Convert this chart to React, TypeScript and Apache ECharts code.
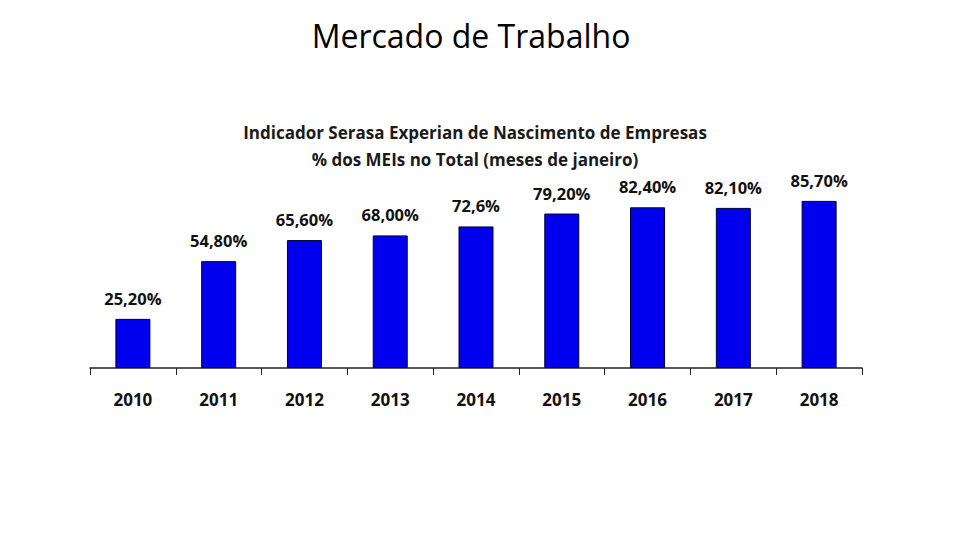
import React, { useEffect, useRef } from "react";
import * as echarts from "echarts";

const categories = ["2010", "2011", "2012", "2013", "2014", "2015", "2016", "2017", "2018"];
const values = [25.2, 54.8, 65.6, 68.0, 72.6, 79.2, 82.4, 82.1, 85.7];
const labels = ["25,20%", "54,80%", "65,60%", "68,00%", "72,6%", "79,20%", "82,40%", "82,10%", "85,70%"];

const FONT = "'Open Sans', 'Noto Sans', sans-serif";

export default function App() {
  const ref = useRef<HTMLDivElement>(null);
  useEffect(() => {
    if (!ref.current) return;
    const chart = echarts.init(ref.current, null, { renderer: "svg" });
    chart.setOption({
      animation: false,
      backgroundColor: "#ffffff",
      title: [
        {
          text: "Mercado de Trabalho",
          left: 466,
          top: 14,
          textAlign: "center",
          textStyle: { fontFamily: FONT, fontSize: 32, fontWeight: "normal", color: "#000" },
        },
        {
          text: "Indicador Serasa Experian de Nascimento de Empresas\n% dos MEIs no Total (meses de janeiro)",
          left: 470,
          top: 114,
          textAlign: "center",
          textStyle: { fontFamily: FONT, fontSize: 17, fontWeight: "bold", color: "#1a1a1a", lineHeight: 27 },
        },
      ],
      grid: { left: 90, right: 98, top: 173, height: 195 },
      xAxis: {
        type: "category",
        data: categories,
        axisLine: { lineStyle: { color: "#222", width: 1.5 } },
        axisTick: { show: true, length: 7, lineStyle: { color: "#222" }, alignWithLabel: false },
        axisLabel: { fontFamily: FONT, fontSize: 17, fontWeight: "bold", color: "#111", margin: 23 },
      },
      yAxis: {
        type: "value",
        min: 0,
        max: 100,
        show: false,
        splitLine: { show: false },
      },
      series: [
        {
          type: "bar",
          data: values,
          barWidth: 35,
          itemStyle: { color: "#0000ee", borderColor: "#000033", borderWidth: 1 },
          label: {
            show: true,
            position: "top",
            distance: 12,
            fontFamily: FONT,
            fontSize: 16.5,
            fontWeight: "bold",
            color: "#111",
            formatter: (p: any) => labels[p.dataIndex],
          },
        },
      ],
    });
    return () => chart.dispose();
  }, []);
  return (
    <div
      ref={ref}
      style={{ position: "fixed", left: 0, top: 0, width: 960, height: 540 }}
    />
  );
}
